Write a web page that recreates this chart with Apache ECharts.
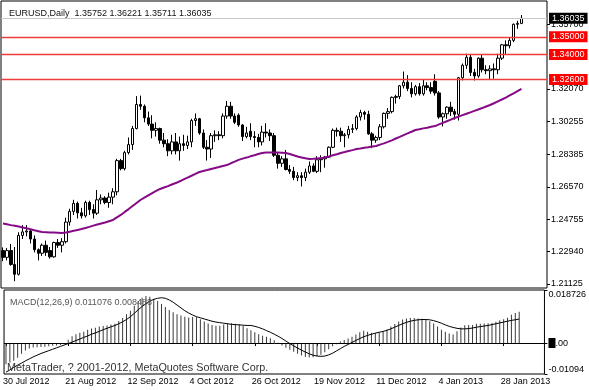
<!DOCTYPE html>
<html>
<head>
<meta charset="utf-8">
<script src="https://cdn.jsdelivr.net/npm/echarts@6/dist/echarts.min.js"></script>
<style>
html,body{margin:0;padding:0;background:#fff;}
#chart{width:589px;height:390px;}
</style>
</head>
<body>
<div id="chart"></div>
<script>
// ---------- DATA ----------
const symbolTitle = 'EURUSD,Daily  1.35752 1.36221 1.35711 1.36035';
const macdTitle = 'MACD(12,26,9) 0.011076 0.008488';
const copyright = 'MetaTrader, ? 2001-2012, MetaQuotes Software Corp.';

const tickLabels = ['30 Jul 2012','21 Aug 2012','12 Sep 2012','4 Oct 2012','26 Oct 2012','19 Nov 2012','11 Dec 2012','4 Jan 2013','28 Jan 2013'];
const priceTicks = [1.21125,1.22940,1.24755,1.26570,1.28385,1.30255,1.32070,1.35700];
const levelLines = [1.35000,1.34000,1.32600];
const bidPrice = 1.36035;
const macdTicks = [-0.01094,0,0.018726];
const holidays = ['2012-12-25','2013-01-01'];
const emptySlots = 6;

const open = [1.2300,1.2262,1.2300,1.2222,1.2167,1.2385,1.2405,1.2410,1.2365,1.2305,
1.2285,1.2330,1.2300,1.2265,1.2345,1.2330,1.2350,1.2460,1.2520,1.2565,
1.2512,1.2495,1.2570,1.2530,1.2510,1.2585,1.2595,1.2570,1.2600,1.2630,
1.2805,1.2760,1.2850,1.2895,1.2985,1.3120,1.3110,1.3045,1.3010,1.2975,
1.2985,1.2920,1.2900,1.2860,1.2910,1.2860,1.2900,1.2890,1.2910,1.3030,
1.3040,1.2960,1.2880,1.2870,1.2945,1.2950,1.2945,1.3055,1.3110,1.3055,
1.3060,1.3005,1.2940,1.2970,1.2940,1.2935,1.2910,1.2965,1.2960,1.2945,
1.2835,1.2790,1.2815,1.2755,1.2745,1.2710,1.2720,1.2710,1.2740,1.2775,
1.2745,1.2810,1.2815,1.2825,1.2880,1.2975,1.2970,1.2945,1.2950,1.2980,
1.2985,1.3050,1.3075,1.3065,1.2955,1.2920,1.2935,1.2995,1.3070,1.3080,
1.3160,1.3165,1.3225,1.3245,1.3210,1.3180,1.3220,1.3180,1.3225,1.3215,
1.3250,1.3185,1.3050,1.3068,1.3105,1.3080,1.3065,1.3270,1.3340,1.3385,
1.3300,1.3280,1.3380,1.3315,1.3310,1.3320,1.3315,1.3380,1.3455,1.3450,
1.3480,1.3570,1.35752];
const high = [1.2318,1.2315,1.2337,1.2320,1.2403,1.2443,1.2443,1.2420,1.2385,1.2312,
1.2340,1.2356,1.2320,1.2350,1.2365,1.2370,1.2485,1.2535,1.2585,1.2575,
1.2540,1.2580,1.2580,1.2560,1.2640,1.2615,1.2605,1.2625,1.2650,1.2815,
1.2815,1.2860,1.2935,1.3000,1.3167,1.3170,1.3120,1.3080,1.3060,1.3020,
1.2990,1.2960,1.2925,1.2950,1.2960,1.2940,1.2950,1.2945,1.3040,1.3070,
1.3045,1.2980,1.2920,1.2960,1.2975,1.2970,1.3070,1.3140,1.3135,1.3070,
1.3070,1.3010,1.2995,1.3015,1.2970,1.2955,1.3000,1.3015,1.2980,1.2960,
1.2850,1.2830,1.2865,1.2780,1.2770,1.2740,1.2740,1.2760,1.2800,1.2790,
1.2830,1.2835,1.2830,1.2885,1.2985,1.2990,1.2990,1.2960,1.3000,1.3010,
1.3060,1.3090,1.3085,1.3085,1.2965,1.2945,1.3010,1.3075,1.3100,1.3165,
1.3175,1.3230,1.3305,1.3285,1.3245,1.3230,1.3240,1.3260,1.3245,1.3245,
1.3290,1.3195,1.3075,1.3110,1.3135,1.3095,1.3275,1.3350,1.3405,1.3400,
1.3320,1.3385,1.3400,1.3340,1.3340,1.3350,1.3405,1.3460,1.3480,1.3495,
1.3575,1.3590,1.36221];
const low = [1.2240,1.2245,1.2215,1.2128,1.2160,1.2365,1.2380,1.2340,1.2290,1.2245,
1.2270,1.2270,1.2255,1.2260,1.2315,1.2290,1.2340,1.2440,1.2500,1.2480,
1.2480,1.2485,1.2500,1.2480,1.2500,1.2560,1.2560,1.2540,1.2560,1.2610,
1.2750,1.2750,1.2840,1.2865,1.2980,1.3090,1.3020,1.3000,1.2930,1.2940,
1.2900,1.2880,1.2830,1.2840,1.2840,1.2805,1.2860,1.2870,1.2880,1.3000,
1.2950,1.2870,1.2805,1.2820,1.2910,1.2920,1.2930,1.3040,1.3040,1.3010,
1.2995,1.2915,1.2930,1.2920,1.2880,1.2880,1.2890,1.2935,1.2915,1.2825,
1.2760,1.2770,1.2750,1.2730,1.2695,1.2690,1.2660,1.2690,1.2730,1.2740,
1.2735,1.2740,1.2765,1.2820,1.2875,1.2940,1.2910,1.2880,1.2930,1.2960,
1.2975,1.3030,1.3035,1.2950,1.2875,1.2905,1.2920,1.2985,1.3040,1.3070,
1.3125,1.3150,1.3210,1.3195,1.3160,1.3170,1.3170,1.3170,1.3200,1.3180,
1.3170,1.3040,1.2997,1.3040,1.3055,1.3035,1.3030,1.3255,1.3320,1.3280,
1.3255,1.3270,1.3300,1.3290,1.3260,1.3265,1.3290,1.3370,1.3400,1.3435,
1.3470,1.3545,1.35711];
const close = [1.2262,1.2300,1.2222,1.2167,1.2385,1.2405,1.2410,1.2365,1.2305,1.2285,
1.2330,1.2290,1.2265,1.2345,1.2330,1.2350,1.2460,1.2520,1.2565,1.2512,
1.2495,1.2570,1.2530,1.2510,1.2585,1.2595,1.2570,1.2600,1.2630,1.2805,
1.2760,1.2850,1.2895,1.2985,1.3120,1.3110,1.3045,1.3010,1.2975,1.2985,
1.2920,1.2900,1.2860,1.2910,1.2860,1.2900,1.2890,1.2910,1.3030,1.3040,
1.2960,1.2880,1.2870,1.2945,1.2950,1.2945,1.3055,1.3110,1.3055,1.3020,
1.3005,1.2940,1.2960,1.2940,1.2935,1.2910,1.2965,1.2960,1.2945,1.2835,
1.2790,1.2815,1.2755,1.2745,1.2710,1.2720,1.2710,1.2740,1.2775,1.2745,
1.2810,1.2815,1.2825,1.2880,1.2975,1.2970,1.2945,1.2950,1.2980,1.2985,
1.3050,1.3075,1.3065,1.2955,1.2920,1.2935,1.2995,1.3070,1.3080,1.3160,
1.3165,1.3225,1.3245,1.3210,1.3180,1.3220,1.3180,1.3225,1.3215,1.3195,
1.3185,1.3050,1.3068,1.3105,1.3080,1.3065,1.3270,1.3340,1.3385,1.3300,
1.3280,1.3380,1.3315,1.3310,1.3320,1.3315,1.3380,1.3455,1.3450,1.3480,
1.3570,1.3575,1.36035];
const movingAverage = [1.2452,1.2448,1.2443,1.2439,1.2435,1.2430,1.2425,1.2420,1.2414,1.2409,
1.2404,1.2403,1.2402,1.2401,1.2400,1.2399,1.2401,1.2406,1.2411,1.2416,
1.2421,1.2427,1.2433,1.2440,1.2446,1.2452,1.2458,1.2465,1.2472,1.2486,
1.2500,1.2517,1.2533,1.2550,1.2567,1.2584,1.2597,1.2610,1.2623,1.2635,
1.2646,1.2654,1.2662,1.2671,1.2679,1.2689,1.2700,1.2710,1.2720,1.2731,
1.2741,1.2747,1.2752,1.2758,1.2764,1.2769,1.2775,1.2780,1.2790,1.2799,
1.2809,1.2816,1.2822,1.2829,1.2835,1.2842,1.2848,1.2850,1.2851,1.2851,
1.2850,1.2849,1.2848,1.2842,1.2835,1.2828,1.2823,1.2818,1.2814,1.2815,
1.2817,1.2819,1.2822,1.2828,1.2835,1.2841,1.2848,1.2853,1.2859,1.2864,
1.2870,1.2873,1.2877,1.2880,1.2884,1.2887,1.2895,1.2902,1.2910,1.2919,
1.2929,1.2938,1.2948,1.2958,1.2967,1.2977,1.2981,1.2986,1.2990,1.2995,
1.2999,1.3008,1.3017,1.3026,1.3035,1.3044,1.3052,1.3060,1.3068,1.3076,
1.3084,1.3092,1.3100,1.3109,1.3117,1.3127,1.3138,1.3148,1.3159,1.3171,
1.3183,1.3195,1.3207];
const macdMain = [-0.0075,-0.0069,-0.0063,-0.0052,-0.0038,-0.0026,-0.0019,-0.0016,-0.0015,-0.0014,
-0.0013,-0.0011,-0.0010,-0.0009,-0.0007,-0.0004,0.0012,0.0024,0.0031,0.0036,
0.0040,0.0047,0.0051,0.0054,0.0058,0.0060,0.0062,0.0065,0.0068,0.0078,
0.0088,0.0102,0.0114,0.0132,0.0148,0.0160,0.0166,0.0163,0.0156,0.0148,
0.0138,0.0127,0.0117,0.0109,0.0102,0.0097,0.0093,0.0090,0.0092,0.0091,
0.0084,0.0076,0.0069,0.0064,0.0061,0.0061,0.0065,0.0070,0.0070,0.0068,
0.0066,0.0060,0.0052,0.0045,0.0038,0.0031,0.0026,0.0022,0.0017,0.0010,
0.0001,-0.0009,-0.0017,-0.0024,-0.0031,-0.0038,-0.0044,-0.0049,-0.0051,-0.0050,
-0.0046,-0.0041,-0.0033,-0.0022,-0.0011,-0.0004,0.0005,0.0011,0.0016,0.0022,
0.0030,0.0038,0.0043,0.0040,0.0036,0.0035,0.0037,0.0042,0.0048,0.0058,
0.0067,0.0076,0.0083,0.0087,0.0088,0.0088,0.0087,0.0086,0.0082,0.0077,
0.0069,0.0058,0.0047,0.0040,0.0034,0.0030,0.0042,0.0055,0.0063,0.0064,
0.0064,0.0068,0.0068,0.0069,0.0070,0.0071,0.0075,0.0080,0.0084,0.0089,
0.0100,0.0106,0.011076];
const macdSignal = [-0.0103,-0.0095,-0.0086,-0.0078,-0.0071,-0.0063,-0.0056,-0.0049,-0.0043,-0.0037,
-0.0032,-0.0027,-0.0022,-0.0017,-0.0012,-0.0007,-0.0002,0.0003,0.0009,0.0014,
0.0020,0.0025,0.0031,0.0036,0.0041,0.0047,0.0052,0.0057,0.0062,0.0068,
0.0075,0.0083,0.0093,0.0105,0.0117,0.0129,0.0139,0.0148,0.0154,0.0158,
0.0160,0.0158,0.0152,0.0144,0.0134,0.0124,0.0114,0.0106,0.0099,0.0093,
0.0089,0.0085,0.0081,0.0077,0.0074,0.0072,0.0070,0.0068,0.0066,0.0065,
0.0064,0.0063,0.0062,0.0062,0.0059,0.0055,0.0050,0.0044,0.0038,0.0031,
0.0024,0.0016,0.0007,-0.0002,-0.0010,-0.0018,-0.0025,-0.0032,-0.0038,-0.0043,
-0.0046,-0.0047,-0.0046,-0.0042,-0.0036,-0.0028,-0.0020,-0.0012,-0.0005,0.0002,
0.0009,0.0016,0.0022,0.0027,0.0031,0.0035,0.0038,0.0041,0.0045,0.0050,
0.0056,0.0062,0.0068,0.0073,0.0077,0.0080,0.0082,0.0083,0.0083,0.0082,
0.0079,0.0075,0.0070,0.0064,0.0059,0.0055,0.0052,0.0050,0.0050,0.0051,
0.0053,0.0056,0.0058,0.0060,0.0062,0.0065,0.0068,0.0071,0.0074,0.0077,
0.0080,0.0082,0.008488];

// ---------- CATEGORIES (trading days) ----------
const monthNames = ['Jan','Feb','Mar','Apr','May','Jun','Jul','Aug','Sep','Oct','Nov','Dec'];
const categories = [];
for (let d = new Date(Date.UTC(2012,6,30)); d.getTime() <= Date.UTC(2013,1,1); d.setUTCDate(d.getUTCDate()+1)) {
  const wd = d.getUTCDay();
  const iso = d.toISOString().slice(0,10);
  if (wd === 0 || wd === 6 || holidays.includes(iso)) continue;
  categories.push(d.getUTCDate() + ' ' + monthNames[d.getUTCMonth()] + ' ' + d.getUTCFullYear());
}
for (let k = 0; k < emptySlots; k++) categories.push('');

const candleData = open.map((o,i) => [o, close[i], low[i], high[i]]);

const FONT = 'Liberation Sans';
const chart = echarts.init(document.getElementById('chart'), null, {renderer:'canvas'});

const levelMarks = levelLines.map(v => ({
  yAxis: v,
  lineStyle: {color:'#f03c3c', width:1.4, type:'solid'},
  label: {backgroundColor:'#ff0000', color:'#fff'}
}));
levelMarks.push({
  yAxis: bidPrice,
  lineStyle: {color:'#c8c8c8', width:1, type:'solid'},
  label: {backgroundColor:'#000', color:'#fff'}
});

const showLabel = (idx) => tickLabels.includes(categories[idx]);

chart.setOption({
  animation: false,
  backgroundColor: '#fff',
  textStyle: {fontFamily: FONT},
  title: [
    {text: symbolTitle, left: 4, top: 4, textStyle:{fontSize:9, fontWeight:'normal', color:'#111', fontFamily:FONT}},
    {text: macdTitle, left: 5, top: 293, textStyle:{fontSize:9, fontWeight:'normal', color:'#555', fontFamily:FONT}},
    {text: copyright, left: 2, top: 358, textStyle:{fontSize:10.8, fontWeight:'normal', color:'#333', fontFamily:FONT}}
  ],
  grid: [
    {left:1, top:1, width:546, height:287, show:true, borderColor:'#000', borderWidth:1, backgroundColor:'transparent'},
    {left:1, top:290, width:546, height:84, show:true, borderColor:'#000', borderWidth:1, backgroundColor:'transparent'}
  ],
  xAxis: [
    {type:'category', gridIndex:0, data:categories, boundaryGap:true,
     axisLine:{show:false}, axisTick:{show:false}, axisLabel:{show:false}, splitLine:{show:false}},
    {type:'category', gridIndex:1, data:categories, boundaryGap:true,
     axisLine:{show:false},
     axisTick:{show:true, interval:showLabel, alignWithLabel:true, length:3, lineStyle:{color:'#000'}},
     axisLabel:{show:true, interval:showLabel, align:'left', margin:3, fontSize:9, color:'#000', fontFamily:FONT, padding:[0,0,0,-3]},
     splitLine:{show:false}}
  ],
  yAxis: [
    {type:'value', gridIndex:0, position:'right', min:1.20900, max:1.37009, scale:true,
     splitLine:{show:false}, axisLine:{show:false},
     axisTick:{show:true, length:3, customValues:priceTicks, lineStyle:{color:'#000'}},
     axisLabel:{show:true, customValues:priceTicks, margin:4, fontSize:9, color:'#000', fontFamily:FONT,
       formatter: v => v.toFixed(5)}},
    {type:'value', gridIndex:1, position:'right', min:macdTicks[0], max:macdTicks[2],
     splitLine:{show:false}, axisLine:{show:false},
     axisTick:{show:true, length:3, customValues:macdTicks, lineStyle:{color:'#000'}},
     axisLabel:{show:true, customValues:macdTicks, margin:4, fontSize:9, color:'#000', fontFamily:FONT,
       verticalAlignMinLabel:'bottom', verticalAlignMaxLabel:'top',
       formatter: v => v === 0 ? '{z|0}.00' : String(v),
       rich:{z:{backgroundColor:'#000', color:'#000', fontSize:9, fontFamily:FONT, padding:[1,1,0,1]}}}}
  ],
  series: [
    {type:'candlestick', xAxisIndex:0, yAxisIndex:0, data:candleData, barWidth:3,
     itemStyle:{color:'#ffffff', color0:'#000000', borderColor:'#000000', borderColor0:'#000000', borderWidth:1},
     markLine:{silent:true, symbol:['none','none'], precision:5,
       label:{show:true, position:'end', distance:2, fontSize:9, fontFamily:FONT, padding:[1,3,1,3],
         formatter: p => p.value.toFixed(5)},
       data: levelMarks}},
    {type:'line', xAxisIndex:0, yAxisIndex:0, data:movingAverage, symbol:'none', smooth:false,
     lineStyle:{color:'#850a85', width:2}, z:3},
    {type:'bar', xAxisIndex:1, yAxisIndex:1, data:macdMain, barWidth:1,
     itemStyle:{color:'#3a3a3a'},
     markLine:{silent:true, symbol:['none','none'], label:{show:false},
       lineStyle:{color:'#000', width:1, type:'solid'}, data:[{yAxis:0}]}},
    {type:'line', xAxisIndex:1, yAxisIndex:1, data:macdSignal, symbol:'none', smooth:false,
     lineStyle:{color:'#000', width:1}, z:3}
  ]
});
</script>
</body>
</html>
